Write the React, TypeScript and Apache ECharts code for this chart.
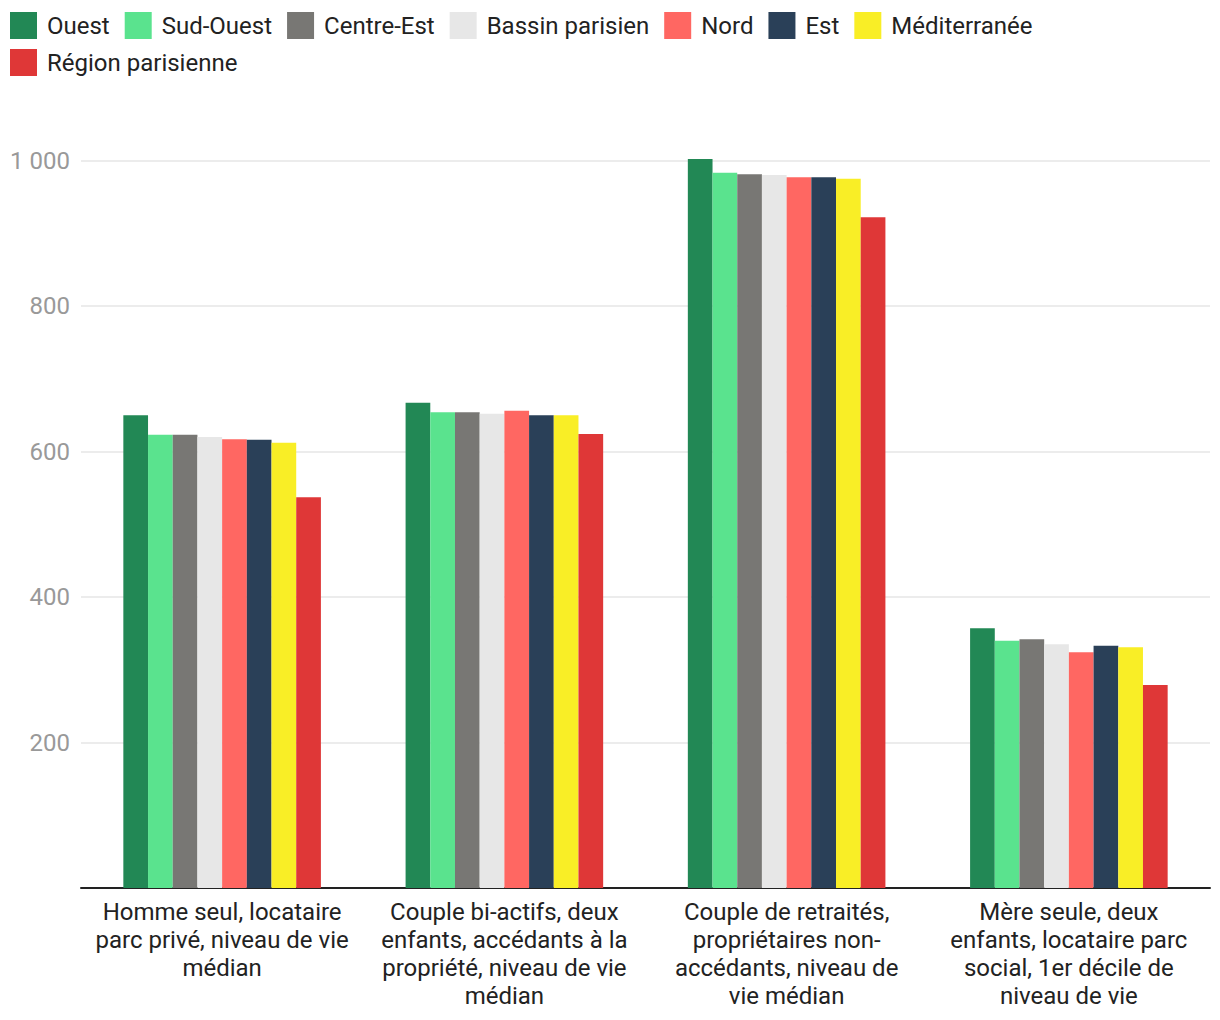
import React, { useEffect, useRef } from "react";
import * as echarts from "echarts";

const categories = [
  "Homme seul, locataire\nparc privé, niveau de vie\nmédian",
  "Couple bi-actifs, deux\nenfants, accédants à la\npropriété, niveau de vie\nmédian",
  "Couple de retraités,\npropriétaires non-\naccédants, niveau de\nvie médian",
  "Mère seule, deux\nenfants, locataire parc\nsocial, 1er décile de\nniveau de vie",
];

const seriesNames = [
  "Ouest",
  "Sud-Ouest",
  "Centre-Est",
  "Bassin parisien",
  "Nord",
  "Est",
  "Méditerranée",
  "Région parisienne",
];

const colors = [
  "#228855",
  "#5ae38e",
  "#787774",
  "#e7e7e7",
  "#ff6762",
  "#2a4058",
  "#f9ee26",
  "#df3737",
];

const ouest = [650, 667, 1002, 357];
const sudOuest = [623, 654, 983, 340];
const centreEst = [623, 654, 981, 342];
const bassinParisien = [620, 652, 980, 335];
const nord = [617, 656, 977, 324];
const est = [616, 650, 977, 333];
const mediterranee = [612, 650, 975, 331];
const regionParisienne = [537, 624, 922, 279];

const seriesValues = [ouest, sudOuest, centreEst, bassinParisien, nord, est, mediterranee, regionParisienne];

const yTicks = [0, 200, 400, 600, 800, 1000];

const legendBase = {
  left: 10,
  padding: 0,
  itemWidth: 27,
  itemHeight: 27,
  itemGap: 15,
  icon: "rect",
  textStyle: {
    fontFamily: "Roboto",
    fontSize: 24,
    color: "#222",
    padding: [0, 0, 0, 5],
  },
};

export default function App() {
  const ref = useRef<HTMLDivElement>(null);
  useEffect(() => {
    document.body.style.margin = "0";
    if (!ref.current) return;
    const chart = echarts.init(ref.current, undefined, { renderer: "svg" });
    chart.setOption({
      animation: false,
      color: colors,
      textStyle: { fontFamily: "Roboto" },
      legend: [
        { ...legendBase, top: 12, data: seriesNames.slice(0, 7) },
        { ...legendBase, top: 49, data: seriesNames.slice(7) },
      ],
      grid: { left: 81, right: 10, top: 160.5, bottom: 132, containLabel: false },
      xAxis: {
        type: "category",
        data: categories,
        axisTick: { show: false },
        axisLine: { lineStyle: { color: "#222", width: 2 } },
        axisLabel: {
          interval: 0,
          fontFamily: "Roboto",
          fontSize: 24,
          color: "#222",
          lineHeight: 28,
          margin: 10,
        },
      },
      yAxis: {
        type: "value",
        min: yTicks[0],
        max: yTicks[yTicks.length - 1],
        interval: 200,
        axisLine: { show: false },
        axisTick: { show: false },
        splitLine: { lineStyle: { color: "#e6e6e6", width: 1.5 } },
        axisLabel: {
          fontFamily: "Roboto",
          fontSize: 24,
          color: "#999",
          margin: 11,
          formatter: (v: number) =>
            v === 0 ? "" : String(v).replace(/\B(?=(\d{3})+(?!\d))/g, " "),
        },
      },
      series: seriesNames.map((name, i) => ({
        name,
        type: "bar",
        data: seriesValues[i],
        barGap: "0%",
        barCategoryGap: "30%",
        clip: false,
      })),
    });
    return () => chart.dispose();
  }, []);
  return <div ref={ref} style={{ width: 1220, height: 1020 }} />;
}
